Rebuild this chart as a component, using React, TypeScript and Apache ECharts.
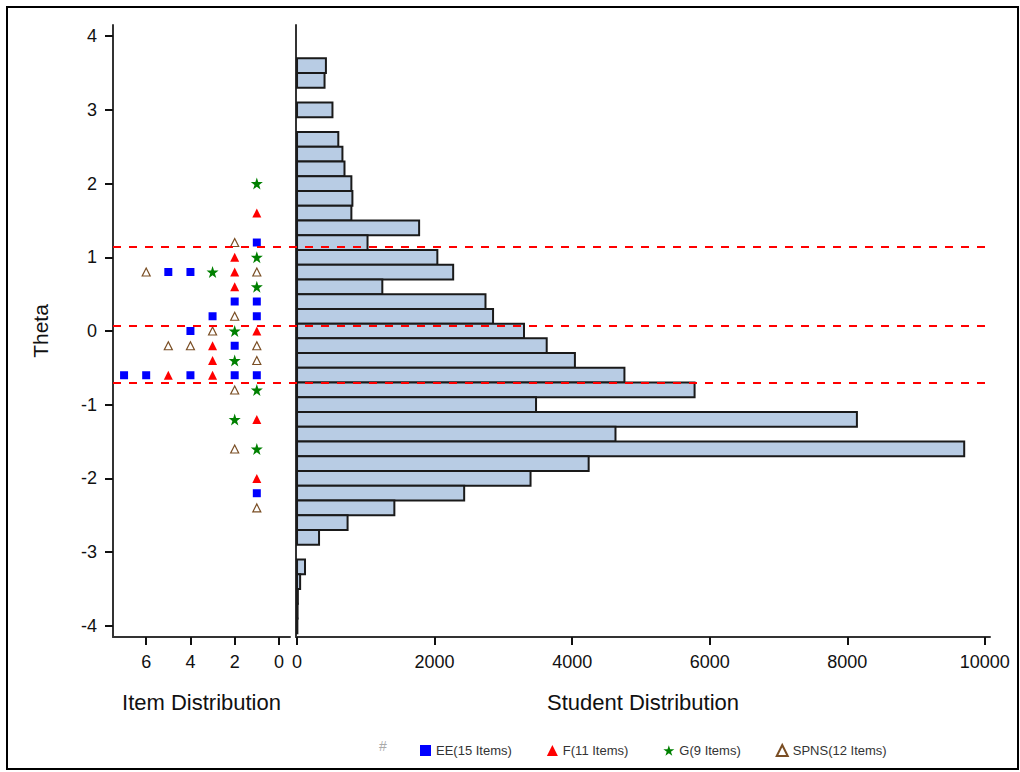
import React, { useEffect, useRef } from "react";
import * as echarts from "echarts";

// Student distribution: theta bin centers and counts
const binTheta = [3.6, 3.4, 3.0, 2.6, 2.4, 2.2, 2.0, 1.8, 1.6, 1.4, 1.2, 1.0, 0.8, 0.6, 0.4, 0.2, 0.0, -0.2, -0.4, -0.6, -0.8, -1.0, -1.2, -1.4, -1.6, -1.8, -2.0, -2.2, -2.4, -2.6, -2.8, -3.2, -3.4, -3.6, -3.8, -4.0];
const binCount = [420, 400, 515, 600, 660, 690, 790, 805, 790, 1775, 1025, 2040, 2270, 1240, 2740, 2850, 3300, 3630, 4040, 4760, 5780, 3475, 8140, 4630, 9700, 4240, 3395, 2430, 1415, 735, 320, 116, 45, 12, 8, 5];

// Item distribution: [stack position, theta]
const itemsEE = [[1, 1.2], [5, 0.8], [4, 0.8], [2, 0.4], [1, 0.4], [3, 0.2], [1, 0.2], [4, 0.0], [2, -0.2], [7, -0.6], [6, -0.6], [4, -0.6], [2, -0.6], [1, -0.6], [1, -2.2]];
const itemsF = [[1, 1.6], [2, 1.0], [2, 0.8], [2, 0.6], [1, 0.0], [3, -0.2], [3, -0.4], [5, -0.6], [3, -0.6], [1, -1.2], [1, -2.0]];
const itemsG = [[1, 2.0], [1, 1.0], [3, 0.8], [1, 0.6], [2, 0.0], [2, -0.4], [1, -0.8], [2, -1.2], [1, -1.6]];
const itemsSPNS = [[2, 1.2], [6, 0.8], [1, 0.8], [2, 0.2], [3, 0.0], [5, -0.2], [4, -0.2], [1, -0.2], [1, -0.4], [2, -0.8], [2, -1.6], [1, -2.4]];

// Cut points (red dashed lines)
const cutPoints = [1.14, 0.068, -0.70];

const thetaTicks = [-4, -3, -2, -1, 0, 1, 2, 3, 4];
const itemTicks = [0, 2, 4, 6];
const studentTicks = [0, 2000, 4000, 6000, 8000, 10000];

const FONT = "Liberation Sans, Arial, sans-serif";
const STAR = "path://M50,0 L61.8,35.4 L98.9,35.4 L68.9,57.3 L80.3,92.7 L50,70.8 L19.7,92.7 L31.1,57.3 L1.1,35.4 L38.2,35.4 Z";

export default function App() {
  const ref = useRef<HTMLDivElement>(null);
  useEffect(() => {
    document.body.style.margin = "0";
    const chart = echarts.init(ref.current!, null, { renderer: "svg" });
    const axisLineStyle = { color: "#333", width: 2 };
    const yMin = -4.15;
    const yMax = 4.15;
    const top = 25;
    const height = 612;
    const plain = (v: number) => String(v);
    chart.setOption({
      animation: false,
      backgroundColor: "#fff",
      textStyle: { fontFamily: FONT },
      grid: [
        { left: 113, top, width: 177, height },
        { left: 296, top, width: 694, height },
        { left: 113, top, width: 877, height },
      ],
      xAxis: [
        {
          gridIndex: 0,
          type: "value",
          min: -0.5,
          max: 7.5,
          inverse: true,
          splitLine: { show: false },
          axisLine: { show: true, onZero: false, lineStyle: axisLineStyle },
          axisTick: { show: true, customValues: itemTicks, length: 8, lineStyle: { color: "#111", width: 2 } },
          axisLabel: { customValues: itemTicks, formatter: plain, fontSize: 18, color: "#111", margin: 16, fontFamily: FONT },
          name: "Item Distribution",
          nameLocation: "middle",
          nameGap: 54,
          nameTextStyle: { fontSize: 22, color: "#111", fontFamily: FONT },
        },
        {
          gridIndex: 1,
          type: "value",
          min: -15,
          max: 10075,
          splitLine: { show: false },
          axisLine: { show: true, onZero: false, lineStyle: axisLineStyle },
          axisTick: { show: true, customValues: studentTicks, length: 8, lineStyle: { color: "#111", width: 2 } },
          axisLabel: { customValues: studentTicks, formatter: plain, fontSize: 18, color: "#111", margin: 16, fontFamily: FONT },
          name: "Student Distribution",
          nameLocation: "middle",
          nameGap: 54,
          nameTextStyle: { fontSize: 22, color: "#111", fontFamily: FONT },
        },
        { gridIndex: 2, type: "value", min: 0, max: 1, show: false },
      ],
      yAxis: [
        {
          gridIndex: 0,
          type: "value",
          min: yMin,
          max: yMax,
          splitLine: { show: false },
          axisLine: { show: true, onZero: false, lineStyle: axisLineStyle },
          axisTick: { show: true, customValues: thetaTicks, length: 8, lineStyle: { color: "#111", width: 2 } },
          axisLabel: { customValues: thetaTicks, formatter: plain, fontSize: 18, color: "#111", margin: 16, fontFamily: FONT },
          name: "Theta",
          nameLocation: "middle",
          nameGap: 62,
          nameTextStyle: { fontSize: 21, color: "#111", fontFamily: FONT },
        },
        {
          gridIndex: 1,
          type: "value",
          min: yMin,
          max: yMax,
          splitLine: { show: false },
          axisLine: { show: true, onZero: false, lineStyle: axisLineStyle },
          axisTick: { show: false },
          axisLabel: { show: false },
        },
        { gridIndex: 2, type: "value", min: yMin, max: yMax, show: false },
      ],
      legend: {
        left: 415,
        top: 739,
        itemWidth: 11,
        itemHeight: 11,
        itemGap: 35,
        textStyle: { fontSize: 13, color: "#333", fontFamily: FONT },
        data: ["EE(15 Items)", "F(11 Items)", "G(9 Items)", "SPNS(12 Items)"],
      },
      graphic: [
        {
          type: "rect",
          shape: { x: 7, y: 7, width: 1011, height: 762 },
          style: { fill: "none", stroke: "#000", lineWidth: 2 },
          silent: true,
        },
        {
          type: "text",
          x: 383,
          y: 746,
          style: { text: "#", fill: "#aaa", font: "14px " + FONT, align: "center", verticalAlign: "middle" },
        },
      ],
      series: [
        {
          type: "custom",
          name: "Students",
          xAxisIndex: 1,
          yAxisIndex: 1,
          data: binTheta.map((t, i) => [binCount[i], t]),
          encode: { x: 0, y: 1 },
          renderItem: (params: any, api: any) => {
            const cnt = api.value(0);
            const t = api.value(1);
            const p1 = api.coord([0, t + 0.1]);
            const p2 = api.coord([cnt, t - 0.1]);
            return {
              type: "rect",
              shape: { x: p1[0], y: p1[1], width: p2[0] - p1[0], height: p2[1] - p1[1] },
              style: { fill: "#B8CCE4", stroke: "#1a1a1a", lineWidth: 2 },
            };
          },
        },
        {
          type: "scatter",
          name: "EE(15 Items)",
          xAxisIndex: 0,
          yAxisIndex: 0,
          symbol: "rect",
          symbolSize: 8,
          itemStyle: { color: "#0000FF", opacity: 1 },
          data: itemsEE,
        },
        {
          type: "scatter",
          name: "F(11 Items)",
          xAxisIndex: 0,
          yAxisIndex: 0,
          symbol: "triangle",
          symbolSize: 9,
          itemStyle: { color: "#FF0000", opacity: 1 },
          data: itemsF,
        },
        {
          type: "scatter",
          name: "G(9 Items)",
          xAxisIndex: 0,
          yAxisIndex: 0,
          symbol: STAR,
          symbolSize: 12,
          itemStyle: { color: "#008000", opacity: 1 },
          data: itemsG,
        },
        {
          type: "scatter",
          name: "SPNS(12 Items)",
          xAxisIndex: 0,
          yAxisIndex: 0,
          symbol: "triangle",
          symbolSize: 8,
          itemStyle: { color: "#fff", borderColor: "#7A4E24", borderWidth: 1.2, opacity: 1 },
          data: itemsSPNS,
        },
        {
          type: "scatter",
          name: "cuts",
          xAxisIndex: 2,
          yAxisIndex: 2,
          data: [],
          silent: true,
          markLine: {
            silent: true,
            symbol: "none",
            label: { show: false },
            lineStyle: { color: "#FF0000", type: [8, 8], width: 2 },
            data: cutPoints.map((c) => ({ yAxis: c })),
          },
        },
      ],
    });
    return () => chart.dispose();
  }, []);
  return <div ref={ref} style={{ width: 1020, height: 772 }} />;
}
